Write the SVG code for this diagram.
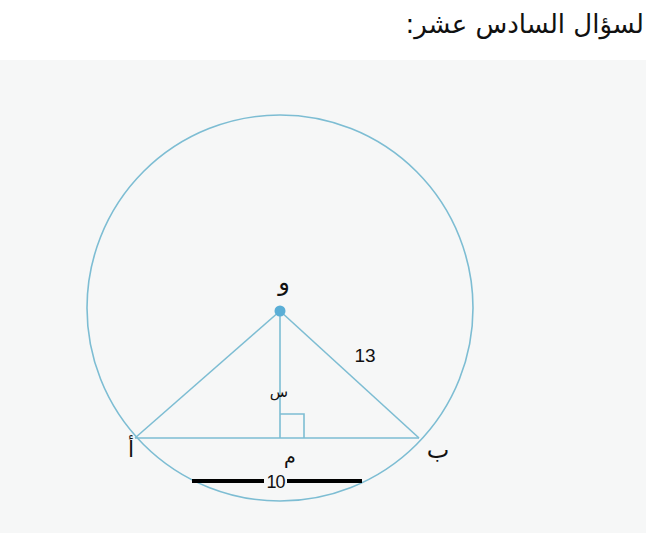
<svg xmlns="http://www.w3.org/2000/svg" width="646" height="533" viewBox="0 0 646 533">
<style>
.geo{fill:none;stroke:#7dbdd3;stroke-width:1.6}
.lbl{font-family:"DejaVu Sans","Liberation Sans",sans-serif;fill:#111}
.num{font-family:"Liberation Sans",Arial,sans-serif;fill:#111}
</style>
<rect width="646" height="533" fill="#ffffff"/>
<rect x="0" y="60" width="646" height="473" fill="#f6f7f7"/>
<text id="title" class="lbl" x="644" y="33" direction="rtl" font-size="26">لسؤال السادس عشر:</text>
<g id="circle"><circle class="geo" cx="280" cy="308" r="193"/></g>
<g id="connectors">
<line class="geo" x1="280" y1="311" x2="135" y2="438"/>
<line class="geo" x1="280" y1="311" x2="419" y2="438"/>
<line class="geo" x1="280" y1="311" x2="280" y2="438"/>
<line class="geo" x1="135" y1="438" x2="419" y2="438"/>
<polyline class="geo" points="280,414 304,414 304,438"/>
</g>
<g id="node-o"><circle cx="280" cy="311" r="5.5" fill="#5aaed6"/><text class="lbl" x="284" y="290" font-size="24" text-anchor="middle">و</text></g>
<g id="node-a"><text class="lbl" x="131" y="457" font-size="22" text-anchor="middle">أ</text></g>
<g id="node-b"><text class="lbl" x="438" y="458" font-size="24" text-anchor="middle">ب</text></g>
<g id="node-m"><text class="lbl" x="290" y="463" font-size="19" text-anchor="middle">م</text></g>
<g id="label-s"><text class="lbl" x="279" y="397" font-size="15" text-anchor="middle">س</text></g>
<g id="label-13"><text class="num" x="365" y="362" font-size="19" text-anchor="middle">13</text></g>
<g id="measure">
<line x1="192" y1="481" x2="264" y2="481" stroke="#000" stroke-width="4"/>
<line x1="287" y1="481" x2="362" y2="481" stroke="#000" stroke-width="4"/>
<text class="num" x="275.5" y="488" font-size="18" letter-spacing="-1" text-anchor="middle">10</text>
</g>
</svg>
